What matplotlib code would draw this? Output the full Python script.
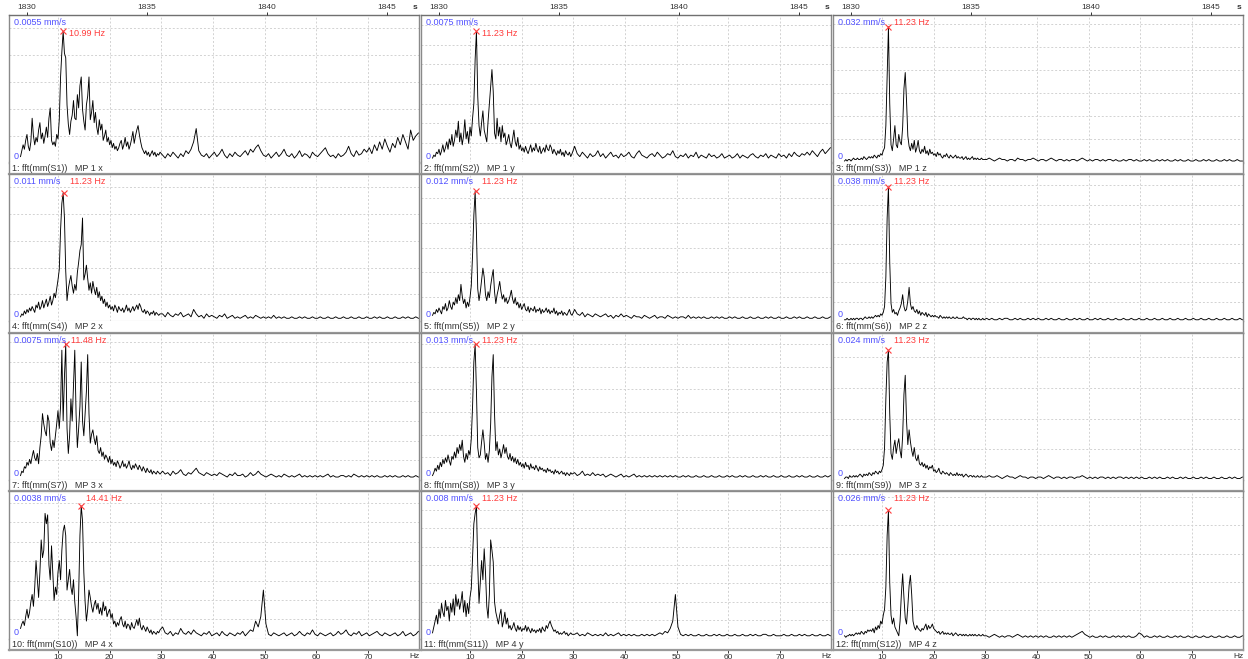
import numpy as np
import matplotlib
matplotlib.use('Agg')
import matplotlib.pyplot as plt
from matplotlib.transforms import blended_transform_factory

plt.rcParams['font.family'] = ['Liberation Sans', 'DejaVu Sans']

# ---------------- data (percent of each panel's full scale) ----------------
freq_lo = np.linspace(2.75, 29.75, 109)   # 0.25 Hz steps
freq_hi = np.linspace(30.25, 79.75, 100)  # 0.5 Hz steps

s1_lo = [4,8,12,9,15,19,11,8,14,30, 18,12,17,14,22,27,16,20,13,18, 24,17,30,37,15,12,14,11,19,16,
         29,58,75,89,74,71,39,26,19,28, 32,42,30,29,46,37,52,58,36,28, 22,39,45,58,29,34,42,27,34,24,
         19,29,22,26,15,18,22,14,17,12, 15,10,13,9,11,8,10,13,15,9, 12,17,11,14,9,12,16,21,13,18,
         22,25,19,14,10,8,6,8,5,7, 4,6,8,5,7,4,6,5,7]
s1_hi = [5,3,6,4,7,5,3,6,4,8, 6,9,14,23,8,5,4,6,3,5, 7,4,6,9,5,3,6,4,7,5, 4,6,8,5,9,7,10,12,8,5,
         4,6,3,5,7,4,6,9,5,4, 6,3,5,8,4,6,5,3,7,5, 4,6,8,10,6,4,5,3,6,4, 5,7,11,6,4,8,5,6,9,7,
         10,6,12,8,14,9,16,11,7,13, 10,17,12,19,14,9,22,15,18,20]

s2_lo = [3,5,4,7,6,9,5,8,12,7, 10,14,9,16,12,19,11,15,22,17, 28,14,20,12,18,29,16,21,13,24,
         18,30,40,70,89,45,25,18,27,35, 22,18,14,28,40,52,63,48,20,16, 30,18,24,14,25,17,20,12,15,19,
         13,10,16,22,14,11,17,9,12,8, 10,7,11,8,6,9,12,7,10,8, 13,9,7,11,6,8,10,7,12,9,
         8,12,10,6,9,7,5,8,6,9, 5,7,4,8,6,5,7,4,6]
s2_hi = [11,6,4,7,5,3,6,4,5,8, 4,6,3,5,7,4,5,3,6,4, 5,7,4,3,6,8,5,4,3,5, 6,4,7,5,3,4,6,5,8,4,
         3,5,4,6,3,5,4,7,3,5, 4,3,6,4,5,3,4,6,3,4, 5,3,4,6,3,5,4,3,5,6, 4,3,5,4,6,3,5,4,3,6,
         4,5,3,6,4,7,5,4,6,5, 7,5,8,6,4,7,9,6,8,10]

s3_lo = [1,2,1,2,2,1,2,3,2,2, 3,2,2,3,2,4,3,2,3,4, 3,4,3,5,4,3,5,4,6,5,
         8,10,25,60,92,40,12,8,16,25, 12,10,19,14,12,24,50,61,42,18, 11,8,13,9,15,7,10,15,8,6,
         9,7,11,6,8,5,9,6,7,5, 6,4,7,5,6,4,3,5,4,6, 4,3,5,4,3,4,5,3,4,3,
         3,4,2,3,4,2,3,2,3,4, 2,3,2,3,2,2,3,2,2]
s3_hi = [2,3,2,1,2,3,2,2,1,2, 2,1,3,2,2,1,2,2,3,2, 1,2,2,1,2,3,2,1,2,2, 1,2,1,2,2,1,2,3,2,1,
         2,1,2,2,1,2,1,2,2,1, 2,1,1,2,1,2,2,1,2,1, 1,2,1,2,1,1,2,1,2,1, 2,1,1,2,1,2,1,1,2,1,
         1,2,1,1,2,1,2,1,1,2, 1,1,2,1,2,1,1,2,1,1]

s4_lo = [3,5,4,7,5,8,6,9,7,10, 8,6,11,9,13,8,10,14,9,12, 15,10,13,17,11,14,19,16,22,28,
         35,62,80,87,70,34,14,22,27,31, 24,19,25,21,33,40,48,52,70,28, 32,38,29,21,26,19,27,22,18,23,
         16,20,14,17,12,15,10,13,9,11, 8,10,7,11,9,6,10,8,7,9, 6,8,11,7,9,6,8,10,7,9,
         11,8,12,10,7,6,8,5,7,6, 4,6,5,7,4,6,5,4,5]
s4_hi = [5,3,6,4,3,5,4,6,3,4, 5,3,8,5,3,4,2,5,3,4, 3,2,4,3,5,2,3,4,2,3, 2,3,4,2,3,2,4,3,2,3,
         2,3,2,4,2,3,2,3,2,2, 3,2,2,3,2,3,2,2,3,2, 2,3,2,2,3,2,2,3,2,2, 3,2,2,3,2,2,3,2,2,3,
         2,2,3,2,3,2,2,3,2,2, 3,2,2,3,2,3,2,2,3,2]

s5_lo = [4,6,5,8,6,9,7,5,10,8, 12,7,9,14,10,8,13,11,16,12, 18,14,25,17,12,15,9,13,10,16,
         24,45,72,88,60,22,14,20,28,36, 30,18,14,20,16,24,30,35,20,12, 18,22,27,20,15,18,13,16,12,14,
         17,21,15,12,16,11,13,9,12,8, 10,12,8,7,10,6,9,8,7,10, 6,8,7,9,5,8,6,7,9,6,
         8,5,7,6,9,5,7,4,6,5, 7,4,6,5,4,6,8,5,4]
s5_hi = [8,5,4,6,3,5,4,3,5,4, 3,4,5,3,4,2,4,3,5,3, 4,3,2,4,3,3,2,4,3,2, 3,4,2,3,3,2,4,3,2,3,
         2,3,3,2,4,2,3,2,3,2, 3,2,2,3,2,3,2,3,2,2, 3,2,3,2,2,3,2,2,3,2, 2,3,2,2,3,2,3,2,2,3,
         2,2,3,2,2,3,2,3,2,2, 3,2,2,3,2,2,3,2,2,3]

s6_lo = [1,1,2,1,1,2,1,2,1,2, 2,1,2,2,1,2,3,2,2,3, 2,3,2,3,4,3,4,3,5,4,
         6,10,30,70,91,40,12,6,8,5, 6,4,7,9,12,18,10,7,8,14, 23,12,8,10,7,6,8,5,7,4,
         6,5,4,6,3,5,4,3,4,3, 4,3,3,2,4,3,2,3,2,3, 2,3,2,2,3,2,2,3,2,2,
         2,2,3,2,2,1,2,2,1,2, 2,1,2,1,2,1,1,2,1]
s6_hi = [2,1,2,1,1,2,1,2,2,1, 1,2,1,2,1,1,2,1,2,1, 2,1,1,2,1,2,1,1,2,1, 1,2,1,1,2,1,2,1,1,2,
         1,1,2,1,2,1,1,2,1,1, 2,1,1,2,1,1,2,1,1,2, 1,1,2,1,1,2,1,1,2,1, 1,2,1,1,2,1,1,2,1,1,
         2,1,1,2,1,1,2,1,1,2, 1,1,2,1,1,2,1,1,2,1]

s7_lo = [3,6,5,9,8,12,10,14,11,16, 20,15,13,18,11,22,30,45,38,33, 30,44,40,25,20,27,22,30,38,47,
         35,50,88,40,70,92,35,18,30,55, 40,65,88,45,22,35,50,80,40,30, 45,60,85,45,25,31,34,28,24,30,
         20,18,22,16,19,14,17,15,12,16, 11,14,10,12,9,13,11,8,10,13, 9,11,8,10,13,9,7,10,8,11,
         9,7,10,8,6,9,7,5,8,6, 5,7,4,6,5,4,6,5,4]
s7_hi = [6,4,5,3,6,4,5,7,4,3, 5,4,6,8,5,4,3,5,4,3, 4,3,5,4,3,2,4,3,5,3, 3,4,2,3,5,3,4,6,4,3,
         2,3,4,3,2,3,2,4,3,2, 3,2,3,4,2,3,2,3,2,3, 2,3,2,3,4,2,3,2,2,3, 3,2,3,2,4,3,2,3,2,3,
         2,3,2,3,2,2,3,2,3,2, 3,2,2,3,2,3,2,2,3,2]

s8_lo = [3,5,8,6,10,7,12,9,14,11, 15,12,17,13,10,16,14,19,15,22, 18,24,20,27,16,12,18,14,20,17,
         28,50,80,92,60,22,15,17,26,34, 25,14,18,12,20,38,70,85,45,20, 26,17,21,15,19,24,18,22,16,14,
         18,13,16,12,15,11,14,10,12,9, 11,8,12,9,10,7,11,8,9,7, 10,8,6,9,7,8,6,7,5,8,
         6,7,5,6,4,7,5,6,4,5, 6,4,5,3,5,4,3,5,4]
s8_hi = [5,3,4,6,3,4,3,5,3,4, 3,4,2,3,4,3,2,3,4,2, 3,2,3,4,2,3,2,3,2,3, 2,3,2,3,2,3,2,3,2,3,
         2,2,3,2,3,2,2,3,2,2, 3,2,2,3,2,2,3,2,2,3, 2,3,2,2,3,2,3,2,2,3, 2,2,3,2,3,2,2,3,2,2,
         3,2,2,3,2,2,3,2,3,2, 2,3,2,2,3,2,2,3,2,3]

s9_lo = [1,2,2,1,3,2,2,3,2,3, 2,3,4,3,2,4,3,4,3,5, 4,3,5,4,6,5,4,6,5,7,
         10,22,55,80,88,45,18,14,22,27, 18,24,28,20,15,30,58,71,40,24, 34,26,20,16,22,15,13,17,11,10,
         12,9,11,8,10,7,9,8,10,6, 7,5,6,8,5,4,6,5,4,5, 4,3,5,4,3,4,3,5,3,4,
         3,4,2,3,4,3,2,3,3,2, 3,2,2,3,2,2,3,2,2]
s9_hi = [2,3,2,2,3,2,1,2,3,2, 2,1,2,3,2,2,1,2,2,1, 2,2,1,2,3,2,1,2,2,1, 2,1,2,2,1,2,2,3,2,1,
         2,1,2,1,2,2,1,2,1,2, 1,2,2,1,2,1,2,1,2,1, 2,1,1,2,1,2,1,2,1,1, 2,1,2,1,1,2,1,2,1,1,
         2,1,1,2,1,2,1,1,2,1, 1,2,1,1,2,1,2,1,1,2]

s10_lo = [7,10,12,9,15,20,14,18,25,30, 22,35,53,40,28,45,67,55,60,85, 78,84,50,40,63,45,26,35,30,45,
          53,40,60,73,77,70,33,40,47,35, 30,40,25,15,2,30,70,90,80,45, 25,12,20,33,28,22,18,23,26,20,
          24,17,21,16,25,19,22,15,18,20, 14,17,10,12,8,11,9,13,15,10, 8,12,7,10,9,6,11,8,7,10,
          13,9,14,8,6,9,7,5,8,6, 4,6,3,5,4,3,5,4,6]
s10_hi = [8,4,3,5,2,4,3,7,4,3, 5,3,6,4,3,2,4,3,5,2, 3,4,2,5,3,2,4,3,2,4, 3,5,2,4,6,5,12,8,15,33,
          10,3,2,4,3,2,3,4,2,3, 4,2,3,5,3,2,4,3,6,3, 2,4,3,2,3,4,2,3,5,3, 4,6,3,2,4,3,5,2,3,4,
          2,3,4,5,3,2,4,3,2,3, 4,2,3,5,2,3,4,2,3,5]

s11_lo = [4,8,12,16,10,20,14,24,18,15, 26,19,22,12,24,18,27,16,30,22, 27,20,25,32,18,26,15,24,17,28,
          34,55,78,85,90,50,24,38,53,40, 61,45,22,14,30,67,60,52,25,18, 14,10,16,20,8,12,18,10,14,7,
          9,6,8,11,7,5,9,6,8,5, 7,6,9,5,8,6,4,7,5,6, 4,6,5,7,4,8,6,5,9,7,
          10,12,9,7,5,6,4,5,3,4, 3,4,5,3,4,2,3,4,3]
s11_hi = [3,4,2,3,2,4,3,2,3,2, 3,2,4,2,3,2,3,4,2,3, 2,3,2,3,2,2,3,2,3,2, 3,2,3,4,3,5,4,7,12,30,
          8,3,2,3,2,3,2,2,3,2, 2,3,2,2,3,2,3,2,2,3, 2,2,3,2,2,3,2,2,3,2, 3,2,2,3,3,2,2,3,2,2,
          2,3,2,2,3,2,2,3,2,3, 2,2,3,2,2,3,2,2,3,2]

s12_lo = [2,1,2,2,3,2,3,2,3,4, 3,4,3,5,4,3,5,4,6,5, 6,5,7,4,8,6,9,7,12,10,
          16,20,35,70,87,38,16,10,14,8, 6,4,2,12,30,44,28,14,10,22, 36,43,30,12,8,6,9,7,6,5,
          7,6,8,10,6,9,7,8,10,7, 6,5,4,5,3,4,5,3,4,3, 4,3,3,4,2,3,4,3,2,3,
          3,2,3,2,3,2,2,3,2,3, 2,3,2,2,3,2,2,3,2]
s12_hi = [2,1,2,3,2,1,2,1,2,2, 1,2,3,2,1,2,1,2,1,2, 1,2,1,2,1,1,2,1,2,1, 2,1,2,1,2,3,4,5,3,2,
          1,2,1,1,2,1,2,1,1,2, 1,2,1,2,1,2,1,1,2,4, 3,1,2,1,1,2,1,2,1,1, 2,1,1,2,1,2,1,1,2,1,
          1,2,1,1,2,1,1,2,1,1, 2,1,1,2,1,1,2,1,1,2]

spectra_lo = [s1_lo, s2_lo, s3_lo, s4_lo, s5_lo, s6_lo, s7_lo, s8_lo, s9_lo, s10_lo, s11_lo, s12_lo]
spectra_hi = [s1_hi, s2_hi, s3_hi, s4_hi, s5_hi, s6_hi, s7_hi, s8_hi, s9_hi, s10_hi, s11_hi, s12_hi]

full_scale = [0.0055, 0.0075, 0.032, 0.011, 0.012, 0.038, 0.0075, 0.013, 0.024, 0.0038, 0.008, 0.026]
scale_text = ['0.0055 mm/s', '0.0075 mm/s', '0.032 mm/s', '0.011 mm/s', '0.012 mm/s', '0.038 mm/s',
              '0.0075 mm/s', '0.013 mm/s', '0.024 mm/s', '0.0038 mm/s', '0.008 mm/s', '0.026 mm/s']
grid_step = [0.001, 0.001, 0.005, 0.002, 0.002, 0.005, 0.001, 0.002, 0.005, 0.0005, 0.001, 0.005]
peak_freq = [10.99, 11.23, 11.23, 11.23, 11.23, 11.23, 11.48, 11.23, 11.23, 14.41, 11.23, 11.23]
channel_labels = ['1: fft(mm(S1))   MP 1 x', '2: fft(mm(S2))   MP 1 y', '3: fft(mm(S3))   MP 1 z',
                  '4: fft(mm(S4))   MP 2 x', '5: fft(mm(S5))   MP 2 y', '6: fft(mm(S6))   MP 2 z',
                  '7: fft(mm(S7))   MP 3 x', '8: fft(mm(S8))   MP 3 y', '9: fft(mm(S9))   MP 3 z',
                  '10: fft(mm(S10))   MP 4 x', '11: fft(mm(S11))   MP 4 y', '12: fft(mm(S12))   MP 4 z']
time_ticks = [1830, 1835, 1840, 1845]
freq_ticks = [10, 20, 30, 40, 50, 60, 70]

# ---------------- layout ----------------
FW, FH = 1248, 659
fig = plt.figure(figsize=(FW / 100, FH / 100), dpi=100)
fig.patch.set_facecolor('white')

def box(x, y, w, h):
    return [x / FW, 1 - (y + h) / FH, w / FW, h / FH]

col_left = [9, 421, 833]
W = 410
row_top = [15, 173.75, 332.5, 491.25]
PH, SH = 147.5, 11.25
XMIN, XMAX = 0.52, 79.87
TMIN = 1829.25
TMAX = TMIN + W / 24.0
peak_label_y = [0.876, 0.876, 0.949, 0.949, 0.949, 0.949, 0.949, 0.949, 0.949, 0.949, 0.949, 0.949]

BLUE = '#5050ff'
RED = '#ff3c3c'
BORDER = '#8a8a8a'
TXT = '#333333'

freqs = np.concatenate([freq_lo, freq_hi])

for i in range(12):
    r, c = divmod(i, 3)
    L, T = col_left[c], row_top[r]
    ax = fig.add_axes(box(L, T, W, PH))
    sx = fig.add_axes(box(L, T + PH, W, SH))

    vals = np.concatenate([spectra_lo[i], spectra_hi[i]]) / 100.0 * full_scale[i]
    ax.plot(freqs, vals, color='black', lw=0.65, zorder=3)
    ax.set_xlim(XMIN, XMAX)
    ax.set_ylim(0, full_scale[i])
    ax.set_xticks(freq_ticks)
    ax.set_yticks(np.arange(grid_step[i], full_scale[i] * 0.999, grid_step[i]))
    ax.grid(True, color='#d2d2d2', linestyle=(0, (2, 2)), linewidth=0.7)
    ax.tick_params(length=0, labelbottom=False, labelleft=False)
    for sname, sp in ax.spines.items():
        sp.set_color(BORDER)
        sp.set_linewidth(1.0)
    ax.spines['bottom'].set_color('#c8c8c8')
    ax.spines['bottom'].set_linewidth(0.8)
    if r == 0:
        ax.spines['top'].set_color('#707070')

    # peak marker and labels
    vmax = vals.max()
    ax.plot([peak_freq[i]], [vmax], marker='x', color=RED, ms=4, mew=0.8, zorder=4)
    bt = blended_transform_factory(ax.transData, ax.transAxes)
    ax.text(peak_freq[i] + 1.1, peak_label_y[i], f'{peak_freq[i]:.2f} Hz', transform=bt,
            color=RED, fontsize=6.5, va='center', ha='left', zorder=5)
    ax.text(0.011, 0.949, scale_text[i], transform=ax.transAxes, color=BLUE, fontsize=6.5,
            va='center', ha='left', zorder=5)
    ax.text(0.011, 0.012, '0', transform=ax.transAxes, color=BLUE, fontsize=6.5,
            va='bottom', ha='left', zorder=5)

    # channel strip
    sx.set_xlim(XMIN, XMAX)
    sx.set_ylim(0, 1)
    sx.set_yticks([])
    for sname, sp in sx.spines.items():
        sp.set_color(BORDER)
        sp.set_linewidth(1.0)
    sx.spines['top'].set_visible(False)
    sx.spines['bottom'].set_linewidth(1.6)
    sx.spines['bottom'].set_color('#9a9a9a')
    sx.text(0.007, 0.5, channel_labels[i], transform=sx.transAxes, color=TXT, fontsize=6.5,
            va='center', ha='left')
    if r == 3:
        sx.set_xticks(freq_ticks)
        sx.set_xticklabels([str(t) for t in freq_ticks])
        sx.tick_params(axis='x', length=2, width=0.7, pad=1, labelsize=6, colors=TXT)
        fig.text((L + W - 5) / FW, 1 - 657 / FH, 'Hz', fontsize=6, color=TXT, ha='center', va='center')
    else:
        sx.set_xticks([])

    if r == 0:
        tx = ax.twiny()
        tx.set_xlim(TMIN, TMAX)
        tx.set_xticks(time_ticks)
        tx.set_xticklabels([str(t) for t in time_ticks])
        tx.tick_params(axis='x', length=2, width=0.7, pad=1, labelsize=6, colors=TXT)
        for sp in tx.spines.values():
            sp.set_visible(False)
        fig.text((L + W - 4) / FW, 1 - 7.5 / FH, 's', fontsize=6, color=TXT, ha='center', va='center',
                 fontweight='bold')

fig.savefig('out.png', dpi=100, facecolor='white')
